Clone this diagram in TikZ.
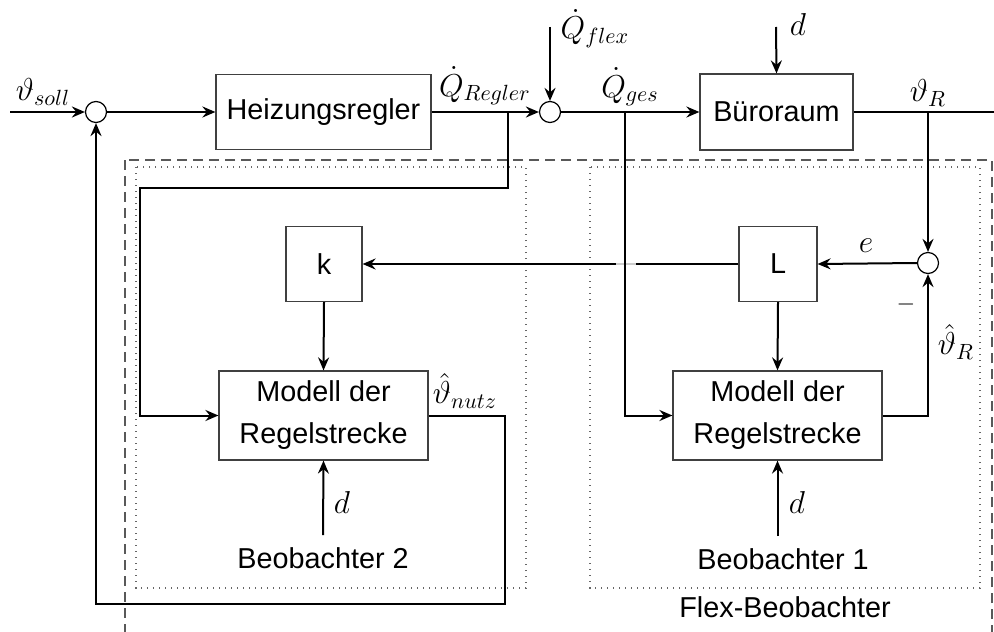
\documentclass[tikz,border=0pt]{standalone}
\usepackage{fontspec}
\usepackage{graphicx}
\newfontfamily\blockfont{Liberation Sans}
\newcommand\siglabel[1]{\scalebox{1.1}{$#1$}}
\usetikzlibrary{arrows.meta}
\begin{document}
\begin{tikzpicture}[x=0.5pt,y=-0.5pt,
  block/.style={draw=black!75, line width=0.6pt, font=\blockfont\fontsize{14.4}{17}\selectfont, align=center, inner sep=0pt},
  sumnode/.style={circle, draw, line width=0.6pt, minimum size=10.5pt, inner sep=0pt},
  sig/.style={line width=1pt, -{Stealth[length=6.5pt,width=5.5pt,inset=2.2pt]}},
  wire/.style={line width=1pt},
  lbl/.style={font=\fontsize{14.4}{17}\selectfont, inner sep=0pt},
  txt/.style={font=\blockfont\fontsize{14.4}{17}\selectfont, inner xsep=0pt, inner ysep=6pt},
  group/.style={draw=black!60, line width=0.6pt, dash pattern=on 0.6pt off 2.4pt},
  outer/.style={draw=black!65, line width=0.6pt, dash pattern=on 5pt off 3pt}]
\useasboundingbox (0,0) rectangle (994,631);
\clip (0,0) rectangle (994,631);

% observer groups
\draw[outer] (125,160) rectangle (992,700);
\draw[group] (136,167) rectangle (526,588);
\draw[group] (590,167) rectangle (980,588);

% blocks
\node[block, minimum width=107.5pt, minimum height=37.5pt] (heiz) at (323.5,112) {Heizungsregler};
\node[block, minimum width=76.5pt, minimum height=38pt] (bur) at (776.5,112) {Büroraum};
\node[block, minimum width=38pt, minimum height=37.5pt] (k) at (324,264) {k};
\node[block, minimum width=39pt, minimum height=37.5pt] (L) at (778,264) {L};
\node[block, minimum width=104.5pt, minimum height=44.5pt] (m2) at (323.5,415.5) {Modell der\\[4pt]Regelstrecke};
\node[block, minimum width=104.5pt, minimum height=44.5pt] (m1) at (777.5,415.5) {Modell der\\[4pt]Regelstrecke};

% summing points
\node[sumnode] (s1) at (96,112) {};
\node[sumnode] (s2) at (550,112) {};
\node[sumnode] (s3) at (928,263) {};

% observer captions
\node[txt] (b2) at (323,558) {Beobachter 2};
\node[txt] (b1) at (783,559) {Beobachter 1};
\node[txt] (flex) at (785,607) {Flex-Beobachter};

% free ends and bends
\coordinate (in) at (10,112);
\coordinate (out) at (994,112);
\coordinate (qflex) at (550,27);
\coordinate (dtop) at (776,27);
\coordinate (qr) at (508,112);
\coordinate (qg) at (625,112);
\coordinate (thr) at (928,112);
\coordinate (c1) at (508,188);
\coordinate (c2) at (140,188);
\coordinate (f1) at (505,604);
\coordinate (gapL) at (616,264);
\coordinate (gapR) at (636,264);

% main loop
\draw[sig] (in) -- (s1.west);
\draw[sig] (s1.east) -- (heiz.west);
\draw[sig] (heiz.east) -- (s2.west);
\draw[sig] (qflex) -- (s2.north);
\draw[sig] (s2.east) -- (bur.west);
\draw[sig] (dtop) -- (bur.north);
\draw[wire] (bur.east) -- (out);

% observer 1
\draw[sig] (thr) -- (s3.north);
\draw[sig] (s3.west) -- (L.east);
\draw[sig] (L.west) -- (k.east);
\draw[line width=1.4pt, white] (gapL) -- (gapR);
\draw[line width=0.8pt, black!20] (gapL) -- (gapR);
\draw[sig] (L.south) -- (m1.north);
\draw[sig] (qg) |- (m1.west);
\draw[sig] (m1.east) -| (s3.south);
\draw[sig] (m1.south |- b1.north) -- (m1.south);

% observer 2
\draw[sig] (k.south) -- (m2.north);
\draw[sig] (qr) -- (c1) -- (c2) |- (m2.west);
\draw[sig] (b2.north) -- (m2.south);
\draw[sig] (m2.east) -| (f1) -| (s1.south);

% signal labels
\node[lbl] (lsoll) at (43,92) {\siglabel{\vartheta_{soll}}};
\node[lbl] (lqr) at (485,86) {\siglabel{\dot{Q}_{Regler}}};
\node[lbl] (lqf) at (595,29) {\siglabel{\dot{Q}_{flex}}};
\node[lbl] (lqg) at (630,87) {\siglabel{\dot{Q}_{ges}}};
\node[lbl] (ld0) at (798,25) {\siglabel{d}};
\node[lbl] (ltr) at (928,93) {\siglabel{\vartheta_R}};
\node[lbl] (le) at (866,246) {\siglabel{e}};
\node[lbl, font=\fontsize{12}{14}\selectfont] (lminus) at (906,304) {$-$};
\node[lbl] (lthr) at (956,342) {\siglabel{\hat{\vartheta}_R}};
\node[lbl] (lnutz) at (465,391) {\siglabel{\hat{\vartheta}_{nutz}}};
\node[lbl] (ld2) at (342,502) {\siglabel{d}};
\node[lbl] (ld1) at (797,502) {\siglabel{d}};
\end{tikzpicture}
\end{document}
